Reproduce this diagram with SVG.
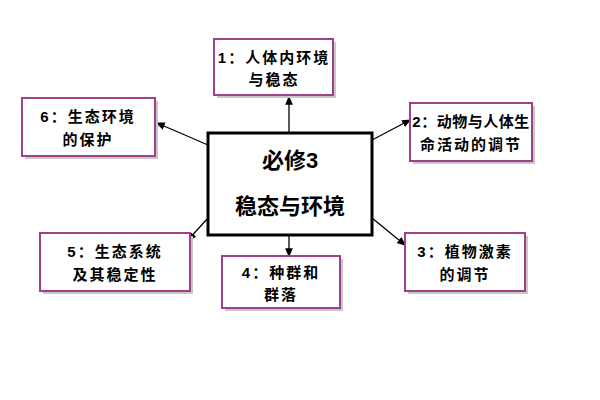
<svg xmlns="http://www.w3.org/2000/svg" width="600" height="400" viewBox="0 0 600 400">
<style>
.b{fill:#fff;stroke:#a0408a;stroke-width:2}
.s{fill:#c8c8c8}
.t{font-family:"Liberation Sans","Noto Sans CJK SC",sans-serif;font-size:15px;font-weight:bold;fill:#000;text-anchor:middle;letter-spacing:2px}
.c{font-family:"Liberation Sans","Noto Sans CJK SC",sans-serif;font-size:22px;font-weight:bold;fill:#000;text-anchor:middle}
line{stroke:#000;stroke-width:1.3;marker-end:url(#a)}
</style>
<defs><marker id="a" markerWidth="8" markerHeight="8" refX="6" refY="3" orient="auto"><path d="M0,0L7,3L0,6z" fill="#000"/></marker></defs>
<rect width="600" height="400" fill="#fff"/>
<g id="connectors">
<line x1="289" y1="133" x2="289" y2="97"/>
<line x1="372" y1="140" x2="410" y2="120"/>
<line x1="372" y1="218" x2="405" y2="245"/>
<line x1="289" y1="235" x2="289" y2="256"/>
<line x1="208" y1="218" x2="188" y2="240"/>
<line x1="208" y1="145" x2="157" y2="123"/>
</g>
<g id="center"><rect x="208" y="133" width="164" height="102" fill="#fff" stroke="#000" stroke-width="3"/>
<text class="c" x="290" y="168">必修3</text><text class="c" x="290" y="214">稳态与环境</text></g>
<g id="n1"><rect class="s" x="217" y="42" width="119" height="56"/><rect class="b" x="214" y="39" width="119" height="56"/>
<text class="t" x="274" y="63">1：人体内环境</text><text class="t" x="274" y="85">与稳态</text></g>
<g id="n2"><rect class="s" x="413" y="106" width="122" height="58"/><rect class="b" x="410" y="103" width="122" height="58"/>
<text class="t" x="471" y="127" style="letter-spacing:0.5px">2：动物与人体生</text><text class="t" x="471" y="150">命活动的调节</text></g>
<g id="n6"><rect class="s" x="25" y="101" width="133" height="58"/><rect class="b" x="22" y="98" width="133" height="58"/>
<text class="t" x="88" y="122">6：生态环境</text><text class="t" x="88" y="145">的保护</text></g>
<g id="n5"><rect class="s" x="43" y="236" width="150" height="58"/><rect class="b" x="40" y="233" width="150" height="58"/>
<text class="t" x="115" y="257">5：生态系统</text><text class="t" x="115" y="280">及其稳定性</text></g>
<g id="n4"><rect class="s" x="225" y="259" width="118" height="52"/><rect class="b" x="222" y="256" width="118" height="52"/>
<text class="t" x="281" y="278">4：种群和</text><text class="t" x="281" y="300">群落</text></g>
<g id="n3"><rect class="s" x="408" y="236" width="120" height="58"/><rect class="b" x="405" y="233" width="120" height="58"/>
<text class="t" x="465" y="257">3：植物激素</text><text class="t" x="465" y="280">的调节</text></g>
</svg>
